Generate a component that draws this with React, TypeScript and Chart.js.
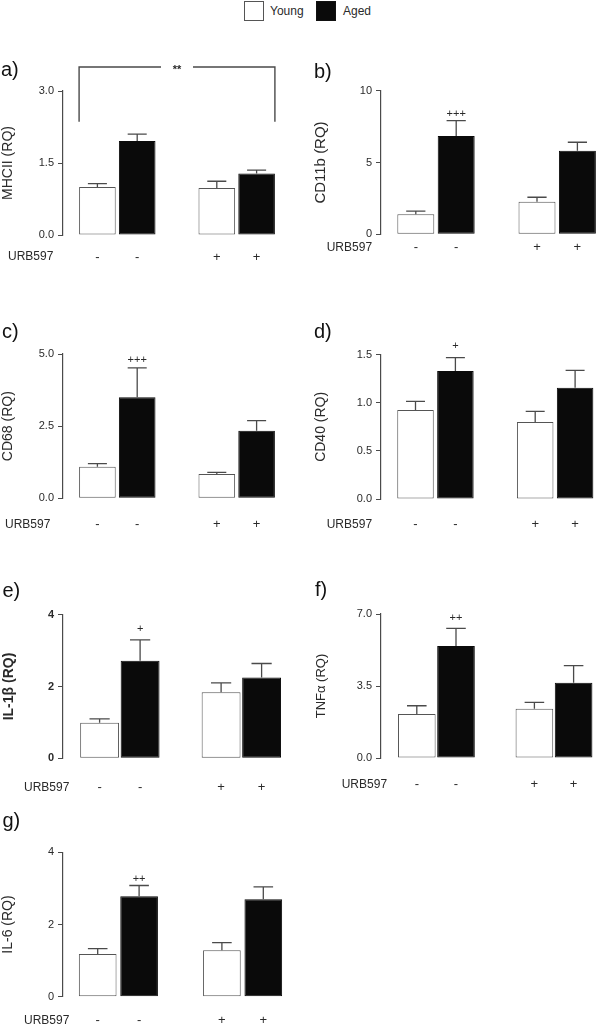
import React, { useEffect, useRef } from "react";
import { Chart, registerables } from "chart.js";

Chart.register(...registerables);

const FONT = '"Liberation Sans", Arial, Helvetica, sans-serif';

// ---------- data ----------
const SERIES = ["Young", "Aged"];
const BAR_SERIES = [0, 1, 0, 1]; // which series each bar belongs to
const BAR_SLOT = [1, 2, 4, 5]; // category slot of each bar on the x axis
const URB597_LABEL = "URB597";
const URB597_SIGNS = ["-", "-", "+", "+"];

const MHCII_TICKS = ["0.0", "1.5", "3.0"];
const MHCII_MEAN = [1.0, 1.96, 0.98, 1.28];
const MHCII_SEM = [0.07, 0.14, 0.14, 0.07];
const MHCII_SIG = ["", "", "", ""];
const MHCII_BRACKET = { from: 0, to: 3, top: 3.5, bottom: 2.36, label: "**" };

const CD11B_TICKS = ["0", "5", "10"];
const CD11B_MEAN = [1.39, 6.85, 2.27, 5.82];
const CD11B_SEM = [0.23, 1.06, 0.31, 0.59];
const CD11B_SIG = ["", "+++", "", ""];

const CD68_TICKS = ["0.0", "2.5", "5.0"];
const CD68_MEAN = [1.09, 3.5, 0.84, 2.34];
const CD68_SEM = [0.11, 1.02, 0.06, 0.35];
const CD68_SIG = ["", "+++", "", ""];

const CD40_TICKS = ["0.0", "0.5", "1.0", "1.5"];
const CD40_MEAN = [0.925, 1.33, 0.8, 1.157];
const CD40_SEM = [0.09, 0.14, 0.11, 0.18];
const CD40_SIG = ["", "+", "", ""];

const IL1B_TICKS = ["0", "2", "4"];
const IL1B_MEAN = [0.99, 2.72, 1.84, 2.25];
const IL1B_SEM = [0.11, 0.58, 0.26, 0.39];
const IL1B_SIG = ["", "+", "", ""];

const TNFA_TICKS = ["0.0", "3.5", "7.0"];
const TNFA_MEAN = [2.14, 5.44, 2.4, 3.66];
const TNFA_SEM = [0.4, 0.86, 0.3, 0.83];
const TNFA_SIG = ["", "++", "", ""];

const IL6_TICKS = ["0", "2", "4"];
const IL6_MEAN = [1.18, 2.78, 1.29, 2.7];
const IL6_SEM = [0.15, 0.3, 0.21, 0.34];
const IL6_SIG = ["", "++", "", ""];

// ---------- styles ----------
const SERIES_STYLE = [
  { fill: "#ffffff", stroke: "#555555" },
  { fill: "#0a0a0a", stroke: "#0a0a0a" },
];
const LINE_COLOR = "#4a4a4a";
const TEXT_COLOR = "#2a2a2a";

type Layout = {
  col: number; axisX: number; yTop: number; yBot: number; unit: number; first: number;
  barFrac: number; signGap: number; urbX: number; titleX: number; titleSize: number;
  labelX: number; labelY: number; sigGap: number; bold?: boolean;
};

const PANELS = [
  { id: "a)", title: "MHCII (RQ)", ticks: MHCII_TICKS, mean: MHCII_MEAN, sem: MHCII_SEM, sig: MHCII_SIG, bracket: MHCII_BRACKET,
    layout: { col: 0, axisX: 63, yTop: 91, yBot: 235, unit: 39.8, first: 34.4, barFrac: 0.92, signGap: 22, urbX: 8, titleX: 8, titleSize: 14, labelX: 1, labelY: 70, sigGap: 8 } },
  { id: "b)", title: "CD11b (RQ)", ticks: CD11B_TICKS, mean: CD11B_MEAN, sem: CD11B_SEM, sig: CD11B_SIG, bracket: null,
    layout: { col: 300, axisX: 381, yTop: 90.7, yBot: 234.3, unit: 40.4, first: 34.8, barFrac: 0.915, signGap: 13.5, urbX: 326.7, titleX: 21, titleSize: 15, labelX: 314, labelY: 72, sigGap: 6.4 } },
  { id: "c)", title: "CD68 (RQ)", ticks: CD68_TICKS, mean: CD68_MEAN, sem: CD68_SEM, sig: CD68_SIG, bracket: null,
    layout: { col: 0, axisX: 63, yTop: 354, yBot: 498.3, unit: 39.8, first: 34.4, barFrac: 0.92, signGap: 26, urbX: 5, titleX: 8, titleSize: 14, labelX: 2, labelY: 332, sigGap: 7.7 } },
  { id: "d)", title: "CD40 (RQ)", ticks: CD40_TICKS, mean: CD40_MEAN, sem: CD40_SEM, sig: CD40_SIG, bracket: null,
    layout: { col: 300, axisX: 381, yTop: 354.7, yBot: 499, unit: 39.9, first: 34.5, barFrac: 0.915, signGap: 25.3, urbX: 326.7, titleX: 21, titleSize: 14, labelX: 314, labelY: 332, sigGap: 11.6 } },
  { id: "e)", title: "IL-1\u03b2 (RQ)", ticks: IL1B_TICKS, mean: IL1B_MEAN, sem: IL1B_SEM, sig: IL1B_SIG, bracket: null,
    layout: { col: 0, axisX: 63, yTop: 614.7, yBot: 758.3, unit: 40.5, first: 36.6, barFrac: 0.96, signGap: 29.4, urbX: 24, titleX: 9.5, titleSize: 14, labelX: 2.5, labelY: 591.5, sigGap: 10.4, bold: true } },
  { id: "f)", title: "TNF\u03b1 (RQ)", ticks: TNFA_TICKS, mean: TNFA_MEAN, sem: TNFA_SEM, sig: TNFA_SIG, bracket: null,
    layout: { col: 300, axisX: 381, yTop: 614, yBot: 758, unit: 39.2, first: 35.8, barFrac: 0.96, signGap: 26.3, urbX: 341.7, titleX: 21, titleSize: 13, labelX: 315, labelY: 590, sigGap: 10 } },
  { id: "g)", title: "IL-6 (RQ)", ticks: IL6_TICKS, mean: IL6_MEAN, sem: IL6_SEM, sig: IL6_SIG, bracket: null,
    layout: { col: 0, axisX: 63, yTop: 852.3, yBot: 996.7, unit: 41.4, first: 34.7, barFrac: 0.91, signGap: 24, urbX: 24, titleX: 8.3, titleSize: 14, labelX: 2.5, labelY: 821, sigGap: 7 } },
];

type PanelDef = (typeof PANELS)[number];

const SIGN_FONT = 13;
const PAD_TOP = 50;

function Panel({ p }: { p: PanelDef }) {
  const ref = useRef<HTMLCanvasElement>(null);
  const L: Layout = p.layout as Layout;
  const canvasTop = Math.round(L.yTop - PAD_TOP);
  const padTop = L.yTop - canvasTop;
  const plotH = L.yBot - L.yTop;
  const canvasH = Math.ceil(padTop + plotH + L.signGap + 12);
  const xAxisH = canvasH - padTop - plotH;
  const yAxisW = L.axisX - L.col;
  const xMin = 1 - L.first / L.unit;
  const xMax = 5.55;
  const plotW = (xMax - xMin) * L.unit;
  const padRight = Math.max(0, 300 - yAxisW - plotW);

  useEffect(() => {
    const canvas = ref.current;
    if (!canvas) return;
    const tickVals = p.ticks.map((t) => parseFloat(t));
    const weight = L.bold ? "bold" : "normal";

    const datasets = SERIES.map((name, s) => ({
      label: name,
      data: BAR_SLOT.map((x, i) => ({ x, y: p.mean[i], i })).filter((d) => BAR_SERIES[d.i] === s),
      backgroundColor: SERIES_STYLE[s].fill,
      borderColor: SERIES_STYLE[s].stroke,
      borderWidth: 1,
      borderSkipped: false as const,
      grouped: false,
      barPercentage: L.barFrac,
      categoryPercentage: 1,
    }));

    const annotate = {
      id: "annotate",
      afterDatasetsDraw(chart: any) {
        const ctx = chart.ctx as CanvasRenderingContext2D;
        const ys = chart.scales.y;
        ctx.save();
        ctx.strokeStyle = LINE_COLOR;
        ctx.lineWidth = 1.3;
        ctx.fillStyle = TEXT_COLOR;
        const barPos: { x: number; w: number }[] = [];
        chart.data.datasets.forEach((ds: any, di: number) => {
          const meta = chart.getDatasetMeta(di);
          meta.data.forEach((bar: any, k: number) => {
            const i = ds.data[k].i;
            barPos[i] = { x: bar.x, w: bar.width };
            const yTopBar = bar.y;
            const yErr = ys.getPixelForValue(p.mean[i] + p.sem[i]);
            const cap = bar.width * 0.26;
            ctx.beginPath();
            ctx.moveTo(bar.x, yTopBar);
            ctx.lineTo(bar.x, yErr);
            ctx.moveTo(bar.x - cap, yErr);
            ctx.lineTo(bar.x + cap, yErr);
            ctx.stroke();
            if (p.sig[i]) {
              ctx.font = `11px ${FONT}`;
              ctx.textAlign = "center";
              ctx.textBaseline = "middle";
              ctx.fillText(p.sig[i], bar.x, yErr - L.sigGap);
            }
          });
        });
        if (p.bracket) {
          const b = p.bracket;
          const x0 = barPos[b.from].x - barPos[b.from].w / 2;
          const x1 = barPos[b.to].x + barPos[b.to].w / 2;
          const yt = ys.getPixelForValue(b.top);
          const yb = ys.getPixelForValue(b.bottom);
          const xm = (x0 + x1) / 2;
          const gap = 16;
          ctx.lineWidth = 1.4;
          ctx.beginPath();
          ctx.moveTo(x0, yb);
          ctx.lineTo(x0, yt);
          ctx.lineTo(xm - gap, yt);
          ctx.moveTo(xm + gap, yt);
          ctx.lineTo(x1, yt);
          ctx.lineTo(x1, yb);
          ctx.stroke();
          ctx.font = `bold 11px ${FONT}`;
          ctx.textAlign = "center";
          ctx.textBaseline = "alphabetic";
          ctx.fillText(b.label, xm, yt + 5.5);
        }
        ctx.restore();
      },
      afterDraw(chart: any) {
        const ctx = chart.ctx as CanvasRenderingContext2D;
        ctx.save();
        ctx.fillStyle = TEXT_COLOR;
        ctx.font = `12px ${FONT}`;
        ctx.textAlign = "left";
        ctx.textBaseline = "middle";
        ctx.fillText(URB597_LABEL, L.urbX - L.col, chart.chartArea.bottom + L.signGap);
        ctx.font = `20px ${FONT}`;
        ctx.fillStyle = "#111";
        ctx.fillText(p.id, L.labelX - L.col, L.labelY - canvasTop);
        ctx.restore();
      },
    };

    const chart = new Chart(canvas, {
      type: "bar",
      data: { datasets: datasets as any },
      options: {
        animation: false,
        responsive: false,
        maintainAspectRatio: false,
        layout: { padding: { top: padTop, right: padRight, bottom: 0, left: 0 } },
        plugins: { legend: { display: false }, tooltip: { enabled: false }, title: { display: false } },
        scales: {
          x: {
            type: "linear",
            min: xMin,
            max: xMax,
            offset: false,
            grid: { display: false, drawTicks: false },
            border: { display: false },
            afterBuildTicks: (axis: any) => {
              axis.ticks = BAR_SLOT.map((v) => ({ value: v }));
            },
            afterFit: (axis: any) => {
              axis.height = xAxisH;
            },
            ticks: {
              autoSkip: false,
              maxRotation: 0,
              padding: L.signGap - (SIGN_FONT * 1.2) / 2,
              color: TEXT_COLOR,
              font: { family: FONT, size: SIGN_FONT },
              callback: (v: any) => {
                const idx = BAR_SLOT.indexOf(Number(v));
                return idx >= 0 ? URB597_SIGNS[idx] : "";
              },
            },
          },
          y: {
            type: "linear",
            min: 0,
            max: tickVals[tickVals.length - 1],
            grid: { display: true, drawOnChartArea: false, drawTicks: true, tickLength: 5, color: LINE_COLOR, lineWidth: 1 },
            border: { display: true, color: LINE_COLOR, width: 1.2 },
            afterBuildTicks: (axis: any) => {
              axis.ticks = tickVals.map((v) => ({ value: v }));
            },
            afterFit: (axis: any) => {
              axis.width = yAxisW;
            },
            ticks: {
              padding: 4,
              color: TEXT_COLOR,
              font: { family: FONT, size: 11, weight: weight as any },
              callback: (v: any) => {
                const idx = tickVals.indexOf(Number(v));
                return idx >= 0 ? p.ticks[idx] : "";
              },
            },
            title: {
              display: true,
              text: p.title,
              color: TEXT_COLOR,
              font: { family: FONT, size: L.titleSize, weight: weight as any, lineHeight: 1.2 },
              padding: { top: Math.max(0, L.titleX - (L.titleSize * 1.2) / 2), bottom: 0 },
            },
          },
        },
      },
      plugins: [annotate],
    });
    return () => chart.destroy();
  }, []);

  return (
    <canvas
      ref={ref}
      width={300}
      height={canvasH}
      style={{ position: "absolute", left: L.col, top: canvasTop, width: 300, height: canvasH }}
    />
  );
}

function Legend() {
  const box = (fill: string, stroke: string, left: number) => (
    <div
      style={{
        position: "absolute", left, top: 1, width: 20, height: 20,
        background: fill, border: `1px solid ${stroke}`, boxSizing: "border-box",
      }}
    />
  );
  const label = (text: string, left: number) => (
    <div style={{ position: "absolute", left, top: 4, font: `12px ${FONT}`, color: TEXT_COLOR, lineHeight: "14px" }}>{text}</div>
  );
  return (
    <>
      {box(SERIES_STYLE[0].fill, "#555", 244)}
      {label(SERIES[0], 270)}
      {box(SERIES_STYLE[1].fill, "#111", 316)}
      {label(SERIES[1], 343)}
    </>
  );
}

export default function App() {
  return (
    <div style={{ position: "absolute", left: 0, top: 0, width: 600, height: 1030, overflow: "hidden", background: "#fff" }}>
      <Legend />
      {PANELS.map((p) => (
        <Panel key={p.id} p={p} />
      ))}
    </div>
  );
}
